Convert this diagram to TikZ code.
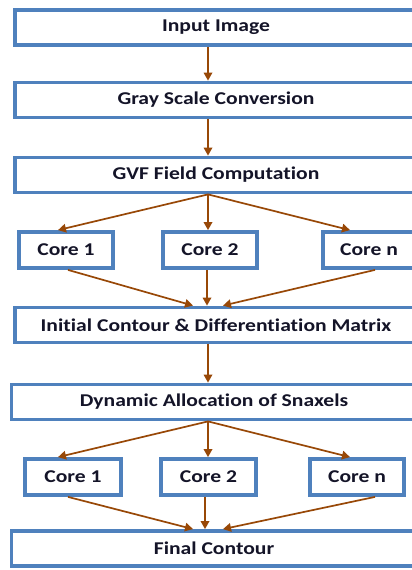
\documentclass[tikz,border=0pt]{standalone}
\usepackage{fontspec}
\setmainfont{Carlito}[FakeStretch=1.2,RawFeature=-liga]
\usetikzlibrary{arrows.meta}
\definecolor{boxblue}{HTML}{4F81BD}
\definecolor{boxlight}{HTML}{7FA6D6}
\definecolor{arrbrown}{HTML}{984807}
\definecolor{txt}{HTML}{141428}
\tikzset{
  basebox/.style={draw=boxblue, line width=3.8pt, fill=white, inner sep=0pt,
    font=\fontsize{18}{20}\selectfont\bfseries, text=txt},
  mainbox/.style={basebox, minimum height=35pt},
  corebox/.style={basebox, minimum height=36pt},
  arr/.style={draw=arrbrown, line width=1.7pt, -{Triangle[length=8pt,width=8.5pt]}}
}
\begin{document}
\begin{tikzpicture}[x=1pt,y=-1pt]
\useasboundingbox (0,0) rectangle (412,570);
\fill[white] (0,0) rectangle (412,570);
\clip (0,0) rectangle (412,570);
% main boxes
\node[mainbox, minimum width=402pt] (inp) at (216,27.5) {Input Image};
\node[mainbox, minimum width=402pt] (gray) at (216,100) {Gray Scale Conversion};
\node[mainbox, minimum width=402pt] (gvf) at (216,175) {GVF Field Computation};
\node[mainbox, minimum width=402pt] (init) at (216,325) {Initial Contour \& Differentiation Matrix};
\node[mainbox, minimum width=405pt] (dyn) at (214,402) {Dynamic Allocation of Snaxels};
\node[mainbox, minimum width=405pt] (fin) at (214,548.5) {Final Contour};
% cores row 1
\node[corebox, minimum width=94pt] (ca1) at (66,250) {Core 1};
\node[corebox, minimum width=94pt] (ca2) at (210,250) {Core 2};
\node[corebox, minimum width=92pt] (can) at (369,250) {Core n};
% cores row 2
\node[corebox, minimum width=96pt] (cb1) at (73,477) {Core 1};
\node[corebox, minimum width=95pt] (cb2) at (208.5,477) {Core 2};
\node[corebox, minimum width=94pt] (cbn) at (357,477) {Core n};
\coordinate (ax) at (208,0);
% vertical arrows
\draw[arr] (inp.south -| ax) -- (gray.north -| ax);
\draw[arr] (gray.south -| ax) -- (gvf.north -| ax);
\draw[arr] (init.south -| ax) -- (dyn.north -| ax);
% fan out 1
\draw[arr] (gvf.south -| ax) -- ([xshift=-8pt]ca1.north);
\draw[arr] (gvf.south -| ax) -- (ca2.north -| ax);
\draw[arr] (gvf.south -| ax) -- ([xshift=-19pt]can.north);
% fan in 1
\draw[arr] ([xshift=2pt]ca1.south) -- ([xshift=-15pt]init.north -| ax);
\draw[arr] (ca2.south -| 207,0) -- (init.north -| 207,0);
\draw[arr] ([xshift=6pt]can.south) -- ([xshift=15pt]init.north -| ax);
% fan out 2
\draw[arr] (dyn.south -| ax) -- ([xshift=-15pt]cb1.north);
\draw[arr] (dyn.south -| ax) -- (cb2.north -| ax);
\draw[arr] (dyn.south -| ax) -- ([xshift=-7pt]cbn.north);
% fan in 2
\draw[arr] ([xshift=-5pt]cb1.south) -- ([xshift=-15pt]fin.north -| ax);
\draw[arr] (cb2.south -| 205,0) -- (fin.north -| 205,0);
\draw[arr] ([xshift=18pt]cbn.south) -- ([xshift=15pt]fin.north -| ax);
\end{tikzpicture}
\end{document}
